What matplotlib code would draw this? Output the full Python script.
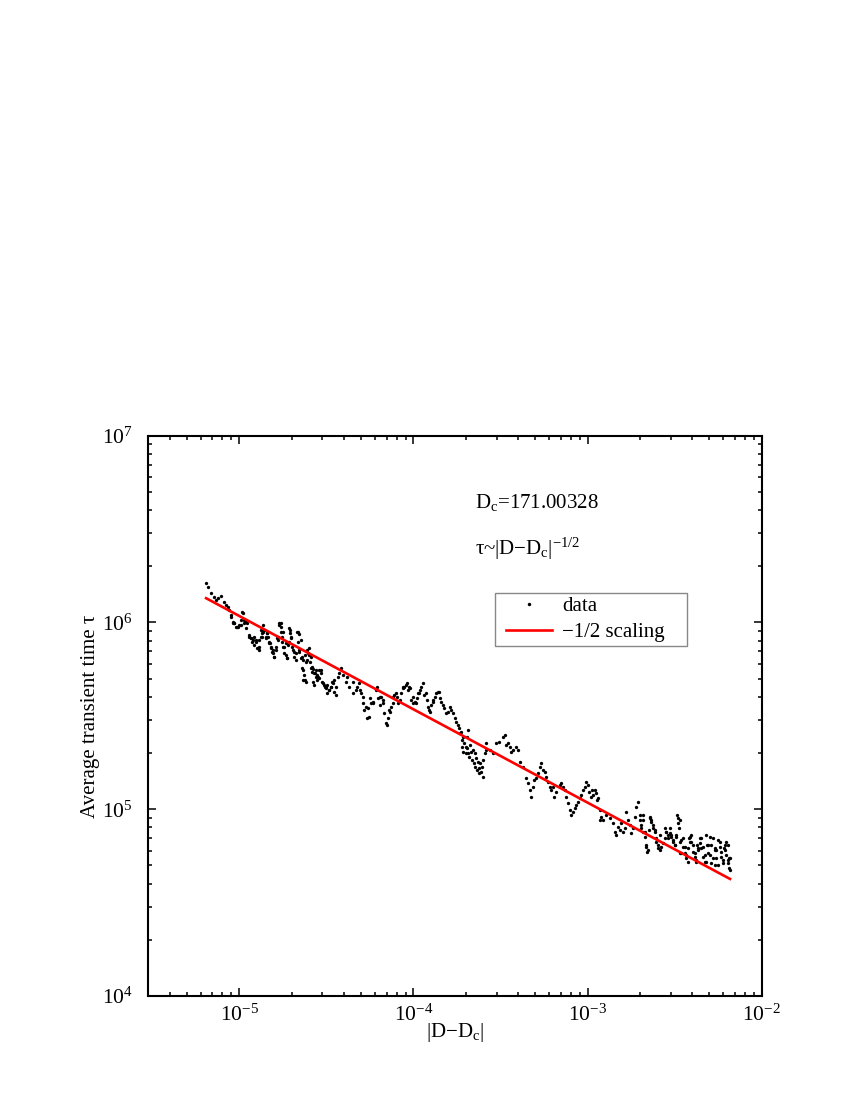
import numpy as np
import matplotlib
matplotlib.use("Agg")
import matplotlib.pyplot as plt
from matplotlib.legend_handler import HandlerLine2D

plt.rcParams['font.family'] = ['Liberation Serif', 'DejaVu Serif']
plt.rcParams['mathtext.fontset'] = 'custom'
plt.rcParams['mathtext.rm'] = 'Liberation Serif'
plt.rcParams['mathtext.it'] = 'Liberation Serif:italic'
plt.rcParams['mathtext.default'] = 'regular'

# ---- data (log10 of |D-Dc| and log10 of average transient time) ----
log10_D = [
    -5.191, -5.182, -5.163, -5.144, -5.134, -5.125, -5.105, -5.086, -5.076, -5.067,
    -5.057, -5.048, -5.039, -5.036, -5.029, -5.019, -5.010, -5.000, -4.990, -4.981,
    -4.971, -4.961, -4.955, -4.943, -4.933, -4.924, -4.914, -4.904, -4.895, -4.890,
    -4.885, -4.875, -4.871, -4.866, -4.862, -4.856, -4.847, -4.843, -4.837, -4.828,
    -4.824, -4.818, -4.809, -4.805, -4.799, -4.790, -4.780, -4.776, -4.770, -4.760,
    -4.755, -4.751, -4.748, -4.741, -4.732, -4.729, -4.722, -4.713, -4.710, -4.703,
    -4.694, -4.684, -4.674, -4.665, -4.659, -4.655, -4.645, -4.642, -4.636, -4.633,
    -4.626, -4.622, -4.617, -4.614, -4.607, -4.598, -4.588, -4.585, -4.579, -4.569,
    -4.559, -4.556, -4.550, -4.540, -4.531, -4.521, -4.511, -4.502, -4.498, -4.483,
    -4.473, -4.464, -4.454, -4.444, -4.435, -4.425, -4.416, -4.406, -4.387, -4.384,
    -4.368, -4.349, -4.346, -4.329, -4.326, -4.310, -4.307, -4.301, -4.291, -4.288,
    -4.282, -4.272, -4.269, -4.263, -4.253, -4.250, -4.243, -4.234, -4.231, -4.214,
    -4.211, -4.205, -4.195, -4.192, -4.186, -4.176, -4.173, -4.167, -4.157, -4.154,
    -4.148, -4.138, -4.135, -4.128, -4.119, -4.116, -4.109, -4.099, -4.096, -4.090,
    -4.080, -4.071, -4.062, -4.059, -4.052, -4.042, -4.039, -4.033, -4.023, -4.020,
    -4.013, -4.004, -4.001, -3.994, -3.984, -3.981, -3.975, -3.966, -3.963, -3.956,
    -3.947, -3.937, -3.927, -3.924, -3.918, -3.908, -3.905, -3.899, -3.889, -3.886,
    -3.879, -3.870, -3.860, -3.851, -3.848, -3.841, -3.832, -3.822, -3.813, -3.803,
    -3.793, -3.784, -3.774, -3.764, -3.755, -3.745, -3.736, -3.733, -3.726, -3.723,
    -3.720, -3.716, -3.713, -3.707, -3.701, -3.697, -3.694, -3.692, -3.687, -3.685,
    -3.682, -3.674, -3.668, -3.662, -3.659, -3.655, -3.649, -3.644, -3.640, -3.636,
    -3.630, -3.625, -3.621, -3.617, -3.612, -3.606, -3.603, -3.598, -3.592, -3.586,
    -3.583, -3.563, -3.544, -3.525, -3.506, -3.487, -3.477, -3.467, -3.458, -3.448,
    -3.438, -3.429, -3.409, -3.400, -3.391, -3.371, -3.352, -3.343, -3.333, -3.324,
    -3.314, -3.305, -3.295, -3.285, -3.276, -3.266, -3.257, -3.247, -3.237, -3.228,
    -3.218, -3.209, -3.199, -3.190, -3.180, -3.161, -3.151, -3.142, -3.132, -3.122,
    -3.113, -3.103, -3.094, -3.084, -3.075, -3.065, -3.055, -3.046, -3.036, -3.027,
    -3.017, -3.007, -2.998, -2.989, -2.979, -2.975, -2.969, -2.960, -2.950, -2.948,
    -2.941, -2.931, -2.928, -2.925, -2.912, -2.893, -2.874, -2.855, -2.845, -2.835,
    -2.826, -2.816, -2.806, -2.797, -2.787, -2.778, -2.768, -2.759, -2.749, -2.740,
    -2.730, -2.720, -2.711, -2.701, -2.692, -2.682, -2.679, -2.672, -2.663, -2.653,
    -2.650, -2.644, -2.634, -2.625, -2.615, -2.605, -2.596, -2.586, -2.583, -2.577,
    -2.567, -2.557, -2.548, -2.538, -2.529, -2.519, -2.510, -2.500, -2.490, -2.487,
    -2.481, -2.471, -2.468, -2.462, -2.452, -2.442, -2.433, -2.423, -2.420, -2.414,
    -2.404, -2.394, -2.385, -2.375, -2.372, -2.366, -2.356, -2.347, -2.337, -2.328,
    -2.318, -2.315, -2.309, -2.299, -2.289, -2.280, -2.270, -2.267, -2.261, -2.251,
    -2.241, -2.232, -2.222, -2.219, -2.213, -2.203, -2.194, -2.191, -2.184, -2.186,
]
log10_tau = [
    6.213, 6.192, 6.156, 6.138, 6.120, 6.130, 6.142, 6.111, 6.094, 6.085,
    6.067, 6.031, 5.997, 6.004, 5.996, 5.978, 5.978, 5.987, 6.013, 6.051,
    6.013, 6.004, 5.996, 5.924, 5.915, 5.906, 5.924, 5.897, 5.863, 5.870,
    5.906, 5.960, 5.924, 5.987, 5.951, 5.960, 5.924, 5.942, 5.924, 5.897,
    5.889, 5.870, 5.853, 5.835, 5.817, 5.853, 5.924, 5.906, 5.987, 5.996,
    5.924, 5.951, 5.870, 5.835, 5.889, 5.808, 5.880, 5.969, 5.942, 5.924,
    5.853, 5.817, 5.799, 5.951, 5.940, 5.853, 5.906, 5.817, 5.799, 5.746,
    5.720, 5.692, 5.680, 5.799, 5.835, 5.862, 5.817, 5.763, 5.750, 5.728,
    5.710, 5.692, 5.710, 5.746, 5.728, 5.675, 5.656, 5.656, 5.665, 5.639,
    5.656, 5.675, 5.692, 5.656, 5.710, 5.728, 5.755, 5.719, 5.683, 5.710,
    5.656, 5.621, 5.683, 5.639, 5.656, 5.675, 5.639, 5.621, 5.603, 5.567,
    5.532, 5.549, 5.487, 5.541, 5.496, 5.594, 5.567, 5.567, 5.576, 5.639,
    5.656, 5.594, 5.603, 5.558, 5.603, 5.585, 5.567, 5.514, 5.460, 5.451,
    5.487, 5.532, 5.523, 5.549, 5.603, 5.567, 5.612, 5.621, 5.603, 5.567,
    5.585, 5.621, 5.656, 5.648, 5.656, 5.665, 5.675, 5.639, 5.656, 5.648,
    5.585, 5.603, 5.567, 5.576, 5.567, 5.594, 5.621, 5.621, 5.639, 5.656,
    5.675, 5.612, 5.621, 5.585, 5.549, 5.532, 5.523, 5.558, 5.585, 5.576,
    5.603, 5.621, 5.630, 5.630, 5.594, 5.576, 5.558, 5.541, 5.514, 5.523,
    5.549, 5.532, 5.514, 5.487, 5.469, 5.451, 5.434, 5.407, 5.415, 5.371,
    5.335, 5.389, 5.308, 5.353, 5.300, 5.335, 5.389, 5.327, 5.300, 5.425,
    5.282, 5.344, 5.308, 5.264, 5.318, 5.246, 5.300, 5.228, 5.273, 5.210,
    5.255, 5.220, 5.193, 5.246, 5.201, 5.228, 5.175, 5.264, 5.300, 5.318,
    5.353, 5.318, 5.300, 5.353, 5.362, 5.389, 5.398, 5.344, 5.353, 5.335,
    5.308, 5.318, 5.335, 5.318, 5.255, 5.228, 5.166, 5.139, 5.103, 5.068,
    5.121, 5.157, 5.166, 5.193, 5.228, 5.246, 5.210, 5.201, 5.175, 5.148,
    5.121, 5.103, 5.121, 5.068, 5.094, 5.130, 5.139, 5.121, 5.103, 5.068,
    5.032, 4.996, 4.970, 4.987, 5.005, 5.023, 5.041, 5.059, 5.077, 5.103,
    5.121, 5.148, 5.130, 5.094, 5.068, 5.103, 5.077, 5.103, 5.086, 5.050,
    5.059, 4.996, 4.943, 4.960, 4.943, 4.970, 4.952, 4.925, 4.880, 4.862,
    4.907, 4.889, 4.925, 4.880, 4.898, 4.987, 4.943, 4.916, 4.872, 4.898,
    4.960, 5.014, 5.041, 4.943, 4.898, 4.880, 4.970, 4.853, 4.800, 4.782,
    4.889, 4.952, 4.943, 4.916, 4.889, 4.845, 4.809, 4.782, 4.862, 4.800,
    4.818, 4.845, 4.880, 4.862, 4.872, 4.853, 4.827, 4.809, 4.853, 4.970,
    4.925, 4.943, 4.765, 4.836, 4.800, 4.765, 4.738, 4.791, 4.846, 4.853,
    4.827, 4.773, 4.746, 4.729, 4.809, 4.782, 4.818, 4.845, 4.800, 4.755,
    4.720, 4.809, 4.765, 4.853, 4.809, 4.738, 4.702, 4.782, 4.782, 4.836,
    4.800, 4.746, 4.711, 4.793, 4.782, 4.827, 4.729, 4.809, 4.675, 4.739,
]

# extra points read from the dense cluster near D-Dc ~ 1e-5 .. 3e-5
log10_D_left = [
    -5.050, -5.030, -5.011, -4.993, -4.983, -4.973, -4.964, -4.944, -4.935, -4.925,
    -4.916, -4.906, -4.897, -4.887, -4.878, -4.868, -4.858, -4.849, -4.839, -4.829,
    -4.820, -4.810, -4.801, -4.791, -4.782, -4.772, -4.763, -4.762, -4.753, -4.743,
    -4.734, -4.724, -4.714, -4.709, -4.705, -4.695, -4.686, -4.676, -4.667, -4.663,
    -4.657, -4.648, -4.638, -4.632, -4.625, -4.619, -4.609, -4.599, -4.594, -4.590,
    -4.580, -4.575, -4.571, -4.567, -4.562, -4.552, -4.542, -4.533, -4.523, -4.513,
    -4.504, -4.494, -4.485, -4.475, -4.466, -4.456, -4.447,
]
log10_tau_left = [
    6.040, 5.996, 5.978, 5.987, 6.058, 5.996, 5.969, 5.933, 5.915, 5.897,
    5.880, 5.906, 5.862, 5.853, 5.924, 5.942, 5.960, 5.915, 5.942, 5.889,
    5.862, 5.844, 5.817, 5.870, 5.915, 5.996, 5.978, 5.951, 5.897, 5.870,
    5.826, 5.808, 5.897, 5.960, 5.915, 5.870, 5.844, 5.835, 5.951, 5.897,
    5.844, 5.808, 5.755, 5.692, 5.826, 5.790, 5.853, 5.826, 5.790, 5.755,
    5.737, 5.683, 5.665, 5.728, 5.746, 5.719, 5.701, 5.746, 5.683, 5.665,
    5.648, 5.621, 5.639, 5.656, 5.683, 5.630, 5.612,
]

# extra points read from the dense columns near D-Dc ~ 2e-3 .. 7e-3
log10_D_right = [
    -2.701, -2.691, -2.682, -2.672, -2.663, -2.659, -2.644, -2.634, -2.625, -2.615,
    -2.605, -2.596, -2.557, -2.548, -2.538, -2.529, -2.519, -2.510, -2.500, -2.490,
    -2.481, -2.475, -2.471, -2.462, -2.452, -2.442, -2.433, -2.423, -2.414, -2.404,
    -2.394, -2.385, -2.375, -2.366, -2.356, -2.347, -2.337, -2.328, -2.318, -2.309,
    -2.299, -2.289, -2.280, -2.270, -2.261, -2.251, -2.241, -2.232, -2.222, -2.213,
    -2.203, -2.194, -2.183, -2.188,
]
log10_tau_right = [
    4.970, 4.916, 4.943, 4.880, 4.809, 4.773, 4.960, 4.934, 4.898, 4.880,
    4.827, 4.791, 4.898, 4.880, 4.845, 4.898, 4.862, 4.836, 4.809, 4.862,
    4.952, 4.898, 4.827, 4.765, 4.845, 4.800, 4.755, 4.720, 4.827, 4.862,
    4.809, 4.765, 4.720, 4.791, 4.845, 4.791, 4.746, 4.720, 4.862, 4.809,
    4.755, 4.711, 4.845, 4.791, 4.738, 4.702, 4.827, 4.773, 4.729, 4.809,
    4.755, 4.711, 4.738, 4.684,
]

# -1/2 power-law fit, end points
fit_log10_D = [-5.191, -2.182]
fit_log10_tau = [6.130, 4.627]

D = 10.0 ** np.concatenate([log10_D, log10_D_left, log10_D_right])
tau = 10.0 ** np.concatenate([log10_tau, log10_tau_left, log10_tau_right])
fit_D = 10.0 ** np.array(fit_log10_D)
fit_tau = 10.0 ** np.array(fit_log10_tau)

fig = plt.figure(figsize=(8.5, 11), dpi=100)
ax = fig.add_axes([0.1745, 0.0945, 0.7216, 0.5094])

ax.plot(D, tau, linestyle='none', marker='o', markersize=2.4,
        color='black', markeredgewidth=0, label='data')
ax.plot(fit_D, fit_tau, color='#ff0000', linewidth=1.9, label='\u22121/2 scaling')

ax.set_xscale('log')
ax.set_yscale('log')
ax.set_xlim(3e-6, 1e-2)
ax.set_ylim(1e4, 1e7)

for s in ax.spines.values():
    s.set_linewidth(1.5)
ax.tick_params(which='both', direction='in', top=True, right=True,
               labelsize=15.5, width=1.1)
ax.tick_params(which='major', length=6)
ax.tick_params(axis='x', which='major', pad=6)
ax.tick_params(axis='y', which='major', pad=11)
ax.tick_params(which='minor', length=3)

ax.set_xlabel('|D\u2212D$_{\\mathrm{c}}$|', fontsize=15)
ax.set_ylabel('Average transient time \u03c4', fontsize=15)
ax.xaxis.set_label_coords(0.5, -0.045)
ax.yaxis.set_label_coords(-0.079, 0.5)

ax.text(0.5326, 0.871, 'D$_{\\mathrm{c}}$=171.00328', transform=ax.transAxes,
        fontsize=15, va='baseline', ha='left')
ax.text(0.5326, 0.787, '\u03c4~|D\u2212D$_{\\mathrm{c}}$|$^{\\mathrm{\u22121/2}}$',
        transform=ax.transAxes, fontsize=15, va='baseline', ha='left')


class OffsetHandler(HandlerLine2D):
    """Line handle starting a few pixels in; single marker at the right end."""
    def get_xdata(self, legend, xdescent, ydescent, width, height, fontsize):
        start = -xdescent + 0.33 * fontsize
        end = -xdescent + width
        return np.array([start, end]), [end]


handles, labels = ax.get_legend_handles_labels()
leg = ax.legend(handles, labels, loc='upper left',
                bbox_to_anchor=(0.565, 0.6278, 0.313, 0.092), mode='expand',
                borderaxespad=0, fontsize=15, numpoints=1, handlelength=2.55,
                handletextpad=0.48, borderpad=0.2, labelspacing=0.3,
                fancybox=False, framealpha=1, edgecolor='#888888',
                handler_map={handles[0]: OffsetHandler(numpoints=1),
                             handles[1]: OffsetHandler(numpoints=1)})
leg.get_frame().set_linewidth(1.0)
leg.legend_handles[0].set_markersize(2.5)

fig.savefig('out.png', dpi=100)
